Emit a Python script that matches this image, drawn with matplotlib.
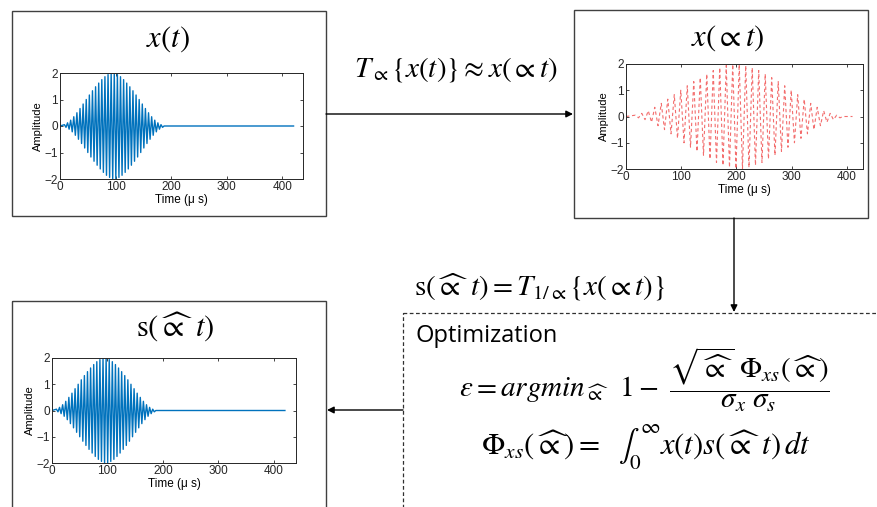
import numpy as np
import matplotlib
matplotlib.use("Agg")
import matplotlib.pyplot as plt
from matplotlib.patches import Rectangle

plt.rcParams['mathtext.fontset'] = 'stix'
plt.rcParams['font.family'] = ['Liberation Sans', 'DejaVu Sans']

# tone burst: time of each positive crest (us) and its amplitude
crest_t = [8, 13.6, 19.2, 24.8, 30.4, 36, 41.6, 47.2, 52.8, 58.4, 64, 69.6,
           75.2, 80.8, 86.4, 92, 97.6, 103.2, 108.8, 114.4, 120, 125.6,
           131.2, 136.8, 142.4, 148, 153.6, 159.2, 164.8, 170.4, 176, 181.6]
crest_a = [0.05, 0.12, 0.22, 0.35, 0.5, 0.66, 0.83, 1.0, 1.17, 1.33, 1.48,
           1.62, 1.75, 1.86, 1.94, 1.99, 1.99, 1.94, 1.86, 1.75, 1.62, 1.48,
           1.33, 1.17, 1.0, 0.83, 0.66, 0.5, 0.35, 0.22, 0.12, 0.05]
half_period = 2.8
t_end = 420            # last sample of the record (us)
alpha = 2.1            # time stretch applied by T_alpha
t_end_stretched = 410

xticks = [0, 100, 200, 300, 400]
yticks = [-2, -1, 0, 1, 2]


def burst(t_stop, scale=1.0):
    t = [0.0]
    y = [0.0]
    for tc, a in zip(crest_t, crest_a):
        t += [tc * scale, (tc + half_period) * scale]
        y += [a, -a]
    t += [(crest_t[-1] + 2 * half_period) * scale, t_stop]
    y += [0.0, 0.0]
    return np.array(t), np.array(y)


W, H = 878, 507
fig = plt.figure(figsize=(W / 100, H / 100), dpi=100)

# canvas in pixel units for boxes, arrows and equations
bg = fig.add_axes([0, 0, 1, 1])
bg.set_xlim(0, W)
bg.set_ylim(H, 0)
bg.axis('off')

box_kw = dict(fill=False, edgecolor='#404040', lw=1.0)
bg.add_patch(Rectangle((12, 11), 314, 205, **box_kw))
bg.add_patch(Rectangle((574, 10), 294, 208, **box_kw))
bg.add_patch(Rectangle((12, 301), 314, 220, **box_kw))
bg.add_patch(Rectangle((403, 313), 490, 220, fill=False, edgecolor='#303030',
                       lw=0.9, linestyle=(0, (3, 2))))

arr = dict(arrowstyle='-|>', color='black', lw=1.0, mutation_scale=10,
           shrinkA=0, shrinkB=0)
bg.annotate('', xy=(573, 114), xytext=(326, 114), arrowprops=arr)
bg.annotate('', xy=(734, 312), xytext=(734, 218), arrowprops=arr)
bg.annotate('', xy=(327, 410), xytext=(403, 410), arrowprops=arr)

bg.text(168, 39, r'$x(t)$', fontsize=22, ha='center', va='center')
bg.text(728, 38, r'$x(\propto t)$', fontsize=22, ha='center', va='center')
bg.text(175, 327, r'$\mathrm{s}(\widehat{\propto}\ t)$', fontsize=22,
        ha='center', va='center')
bg.text(456, 69, r'$T_{\propto}\{x(t)\} \approx x(\propto t)$', fontsize=21,
        ha='center', va='center')
bg.text(540, 287, r'$\mathrm{s}(\widehat{\propto}\ t) = T_{1/\propto}\{x(\propto t)\}$',
        fontsize=21, ha='center', va='center')
bg.text(416, 336, 'Optimization', fontsize=17, family='Open Sans',
        ha='left', va='center')
bg.text(644, 380,
        r'$\varepsilon = argmin_{\widehat{\propto}}\ \ 1 -\ \dfrac{\sqrt{\widehat{\propto}}\ \Phi_{xs}(\widehat{\propto})}{\sigma_x\ \sigma_s}$',
        fontsize=21, ha='center', va='center')
bg.text(646, 447,
        r'$\Phi_{xs}(\widehat{\propto}) =\ \ \int_0^{\infty} x(t)s(\widehat{\propto}\ t)\,dt$',
        fontsize=22, ha='center', va='center')


def px_axes(left, right, top, bottom):
    return fig.add_axes([left / W, 1 - bottom / H, (right - left) / W,
                         (bottom - top) / H])


def style(ax, xmax):
    ax.set_xlim(0, xmax)
    ax.set_ylim(-2, 2)
    ax.set_xticks(xticks)
    ax.set_yticks(yticks)
    ax.tick_params(direction='in', length=2.5, width=0.6, labelsize=8.5,
                   top=True, right=True, pad=1.5, colors='#262626')
    for s in ax.spines.values():
        s.set_linewidth(0.7)
        s.set_color('#262626')
    ax.set_ylabel('Amplitude', fontsize=8, labelpad=1)
    ax.set_xlabel('Time (\u03bc s)', fontsize=8.5, labelpad=1)


ax1 = px_axes(60, 303, 73, 179)
t, y = burst(t_end)
ax1.plot(t, y, color='#0072BD', lw=1.0)
style(ax1, 437)

ax2 = px_axes(626, 863, 64, 169)
t2, y2 = burst(t_end_stretched, alpha)
ax2.plot(t2, y2, color='#f04848', lw=0.8, alpha=0.8, dashes=(3, 2.5))
style(ax2, 429)

ax3 = px_axes(52, 296, 358, 463)
ax3.plot(t, y, color='#0072BD', lw=1.0)
style(ax3, 440)

fig.savefig('out.png', dpi=100)
